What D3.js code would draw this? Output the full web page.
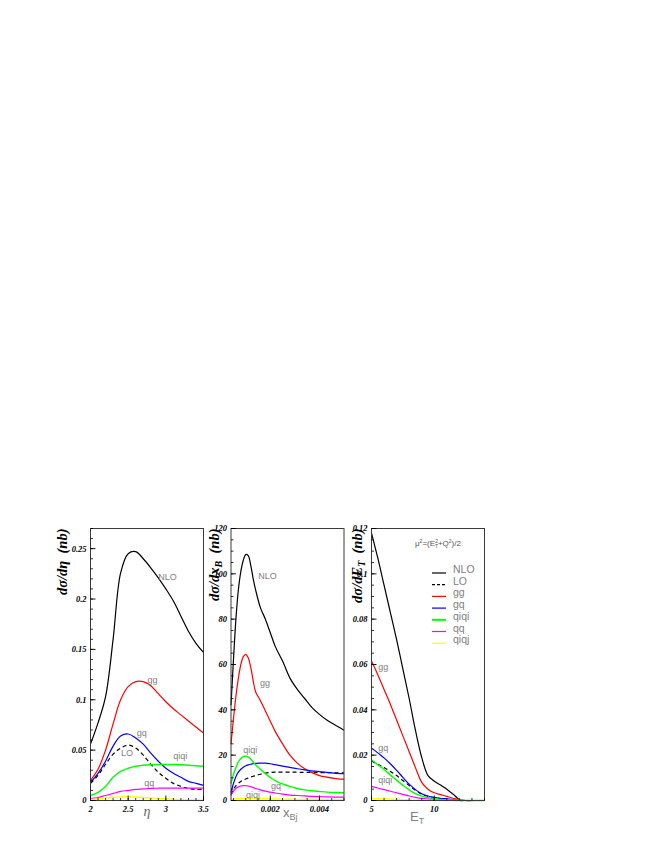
<!DOCTYPE html>
<html>
<head>
<meta charset="utf-8">
<script src="https://cdn.jsdelivr.net/npm/d3@7"></script>
<style>
  body { margin: 0; background: #fff; }
  .tick-label { font-family: "Liberation Serif", "DejaVu Serif", serif; font-weight: bold; font-style: italic; font-size: 8.5px; fill: #000; }
  .ytitle { font-family: "Liberation Serif", "DejaVu Serif", serif; font-weight: bold; font-style: italic; font-size: 14.5px; fill: #000; }
  .curve-label { font-family: "Liberation Sans", Arial, sans-serif; font-size: 9px; fill: #808080; }
  .legend-label { font-family: "Liberation Sans", Arial, sans-serif; font-size: 10.5px; fill: #808080; }
</style>
</head>
<body>
<div id="chart"></div>
<script>
"use strict";

// ---- panel 1 : d sigma / d eta
const etaVals   = [2.0, 2.1, 2.2, 2.3, 2.4, 2.5, 2.6, 2.7, 2.8, 2.9, 3.0, 3.1, 3.2, 3.3, 3.4, 3.5];
const etaNLO    = [0.056, 0.077, 0.103, 0.160, 0.226, 0.245, 0.247, 0.240, 0.231, 0.221, 0.210, 0.198, 0.183, 0.168, 0.156, 0.147];
const etaLO     = [0.017, 0.025, 0.036, 0.046, 0.052, 0.055, 0.052, 0.045, 0.036, 0.028, 0.022, 0.017, 0.014, 0.012, 0.011, 0.011];
const etaGG     = [0.020, 0.031, 0.050, 0.076, 0.100, 0.113, 0.118, 0.118, 0.114, 0.106, 0.098, 0.091, 0.085, 0.079, 0.073, 0.067];
const etaGQ     = [0.018, 0.027, 0.039, 0.054, 0.064, 0.066, 0.062, 0.056, 0.047, 0.039, 0.032, 0.027, 0.023, 0.019, 0.017, 0.015];
const etaQiQi   = [0.005, 0.008, 0.014, 0.023, 0.029, 0.032, 0.034, 0.035, 0.0355, 0.0358, 0.0358, 0.0357, 0.0355, 0.035, 0.0345, 0.034];
const etaQQ     = [0.002, 0.003, 0.005, 0.007, 0.009, 0.010, 0.011, 0.0115, 0.012, 0.0122, 0.0123, 0.0123, 0.0123, 0.0123, 0.0122, 0.0122];
const etaQiQj   = [0.0008, 0.0015, 0.0025, 0.0032, 0.0036, 0.0037, 0.0035, 0.0030, 0.0025, 0.0020, 0.0016, 0.0012, 0.0009, 0.0007, 0.0005, 0.0004];
const etaXTicks = [2, 2.5, 3, 3.5];
const etaXTickLabels = ["2", "2.5", "3", "3.5"];
const etaYTicks = [0, 0.05, 0.1, 0.15, 0.2, 0.25];
const etaYTickLabels = ["0", "0.05", "0.1", "0.15", "0.2", "0.25"];

// ---- panel 2 : d sigma / d x_B
const xbjVals   = [0.0004, 0.0005, 0.0006, 0.0007, 0.0008, 0.0009, 0.0010, 0.0011, 0.0012, 0.0013, 0.0014, 0.0016, 0.0018, 0.0020, 0.0022, 0.0025, 0.0028, 0.0031, 0.0034, 0.0037, 0.0040, 0.0043, 0.0046, 0.0050];
const xbjNLO    = [42, 62, 80, 93, 101, 106, 108.5, 108, 104, 98, 93, 85, 80, 74, 68, 61.5, 54, 49, 45, 41, 38, 35.5, 33.5, 31];
const xbjLO     = [2.6, 5, 6.5, 7.6, 8.4, 9, 9.5, 9.9, 10.3, 10.7, 11, 11.6, 12.1, 12.4, 12.5, 12.5, 12.5, 12.5, 12.4, 12.4, 12.3, 12.3, 12.2, 12.2];
const xbjGG     = [25, 36, 46, 54, 60, 63.5, 64.5, 63, 59, 53, 48, 44, 39.5, 35, 30.5, 25, 20, 16.5, 14, 12.3, 11, 10.3, 9.8, 9.4];
const xbjGQ     = [3.5, 7.5, 10.5, 12.5, 13.8, 14.7, 15.3, 15.7, 16, 16.2, 16.4, 16.5, 16.5, 16.2, 15.8, 15.2, 14.6, 14, 13.5, 13.1, 12.7, 12.4, 12.1, 11.8];
const xbjQiQi   = [7.5, 11.5, 14.5, 17, 18.5, 19.4, 19.6, 19.2, 18.3, 17, 15.8, 13.8, 11.8, 10.2, 8.8, 7.3, 6.2, 5.3, 4.7, 4.3, 4, 3.7, 3.5, 3.4];
const xbjQQ     = [2.2, 4, 5.3, 6, 6.4, 6.6, 6.6, 6.4, 6.1, 5.7, 5.3, 4.7, 4.1, 3.7, 3.3, 2.8, 2.4, 2.2, 2, 1.8, 1.7, 1.6, 1.5, 1.5];
const xbjQiQj   = [0.4, 0.6, 0.75, 0.85, 0.9, 0.9, 0.9, 0.9, 0.85, 0.85, 0.8, 0.8, 0.75, 0.7, 0.65, 0.6, 0.55, 0.5, 0.5, 0.45, 0.45, 0.4, 0.4, 0.4];
const xbjXTicks = [0.002, 0.004];
const xbjXTickLabels = ["0.002", "0.004"];
const xbjYTicks = [0, 20, 40, 60, 80, 100, 120];
const xbjYTickLabels = ["0", "20", "40", "60", "80", "100", "120"];

// ---- panel 3 : d sigma / d E_T
const etVals    = [5, 5.5, 6, 6.5, 7, 7.5, 8, 8.5, 9, 9.5, 10, 10.5, 11, 11.5, 12, 12.5, 13, 13.5, 14];
const etNLO     = [0.118, 0.107, 0.095, 0.083, 0.071, 0.058, 0.045, 0.031, 0.019, 0.011, 0.0085, 0.0068, 0.005, 0.0028, 0.0004, 0, 0, 0, 0];
const etLO      = [0.0174, 0.016, 0.0146, 0.0128, 0.011, 0.0088, 0.0066, 0.0045, 0.0028, 0.0018, 0.0012, 0.0008, 0.0005, 0.0002, 0, 0, 0, 0, 0];
const etGG      = [0.0615, 0.0555, 0.049, 0.0425, 0.0355, 0.0285, 0.0215, 0.0145, 0.008, 0.005, 0.0034, 0.0026, 0.0018, 0.001, 0.0003, 0, 0, 0, 0];
const etGQ      = [0.0232, 0.021, 0.0188, 0.0162, 0.0133, 0.0102, 0.0072, 0.0048, 0.003, 0.002, 0.0014, 0.001, 0.0007, 0.0004, 0.0001, 0, 0, 0, 0];
const etQiQi    = [0.018, 0.0158, 0.0137, 0.0113, 0.009, 0.0067, 0.0047, 0.003, 0.0019, 0.0012, 0.0008, 0.0005, 0.0003, 0.0001, 0, 0, 0, 0, 0];
const etQQ      = [0.0062, 0.0055, 0.0048, 0.0041, 0.0034, 0.0027, 0.002, 0.0014, 0.0009, 0.0006, 0.0004, 0.0002, 0.0001, 0, 0, 0, 0, 0, 0];
const etQiQj    = [0.0008, 0.00075, 0.0007, 0.0006, 0.0005, 0.0004, 0.0003, 0.00025, 0.0002, 0.00015, 0.0001, 0.00005, 0, 0, 0, 0, 0, 0, 0];
const etXTicks  = [5, 10];
const etXTickLabels = ["5", "10"];
const etYTicks  = [0, 0.02, 0.04, 0.06, 0.08, 0.1, 0.12];
const etYTickLabels = ["0", "0.02", "0.04", "0.06", "0.08", "0.1", "0.12"];

// ---- legend / curve names
const curveNames = ["NLO", "LO", "gg", "gq", "qiqi", "qq", "qiqj"];

const curveStyle = {
    NLO:  { color: "#000000", width: 1.2, dash: null },
    LO:   { color: "#000000", width: 1.2, dash: "4,3" },
    gg:   { color: "#ff0000", width: 1.2, dash: null },
    gq:   { color: "#0000ff", width: 1.2, dash: null },
    qiqi: { color: "#00ff00", width: 1.4, dash: null },
    qq:   { color: "#ff00ff", width: 1.2, dash: null },
    qiqj: { color: "#ffff00", width: 1.4, dash: null }
};

const svg = d3.select("#chart").append("svg")
    .attr("width", 654)
    .attr("height", 846);

const frameTop = 528.5, frameBottom = 800.5, panelW = 113;

const panels = [
    {
        left: 90.5, xDomain: [2, 3.5], yDomain: [0, 0.27], xs: etaVals,
        series: { NLO: etaNLO, LO: etaLO, gg: etaGG, gq: etaGQ, qiqi: etaQiQi, qq: etaQQ, qiqj: etaQiQj },
        xTicks: etaXTicks, xTickLabels: etaXTickLabels, xMinor: d3.range(2, 3.501, 0.1),
        yTicks: etaYTicks, yTickLabels: etaYTickLabels, yMinor: d3.range(0, 0.2701, 0.01),
        labels: [["NLO", 2.9, 0.2187], ["gg", 2.755, 0.1163], ["gq", 2.613, 0.0636], ["LO", 2.404, 0.0437], ["qiqi", 3.10, 0.0408], ["qq", 2.714, 0.0139]],
        ytitle: ["dσ/dη", "", "  (nb)"], ytitleX: 67
    },
    {
        left: 231, xDomain: [0.0004, 0.005], yDomain: [0, 120], xs: xbjVals,
        series: { NLO: xbjNLO, LO: xbjLO, gg: xbjGG, gq: xbjGQ, qiqi: xbjQiQi, qq: xbjQQ, qiqj: xbjQiQj },
        xTicks: xbjXTicks, xTickLabels: xbjXTickLabels, xMinor: d3.range(0.0005, 0.00501, 0.0005),
        yTicks: xbjYTicks, yTickLabels: xbjYTickLabels, yMinor: d3.range(0, 120.1, 5),
        labels: [["NLO", 0.00151, 97.6], ["gg", 0.00158, 50.7], ["qiqi", 0.0009, 21], ["gq", 0.00203, 5.2], ["qiqj", 0.00101, 1.2]],
        ytitle: ["dσ/dx", "B", "  (nb)"], ytitleX: 219
    },
    {
        left: 371.5, xDomain: [5, 14], yDomain: [0, 0.12], xs: etVals,
        series: { NLO: etNLO, LO: etLO, gg: etGG, gq: etGQ, qiqi: etQiQi, qq: etQQ, qiqj: etQiQj },
        xTicks: etXTicks, xTickLabels: etXTickLabels, xMinor: d3.range(5, 14.01, 1),
        yTicks: etYTicks, yTickLabels: etYTickLabels, yMinor: d3.range(0, 0.1201, 0.005),
        labels: [["gg", 5.53, 0.0577], ["gq", 5.53, 0.0217], ["qiqi", 5.53, 0.0078]],
        ytitle: ["dσ/dE", "T", "  (nb)"], ytitleX: 362
    }
];

panels.forEach(drawPanel);

function drawPanel(p) {
    const x = d3.scaleLinear().domain(p.xDomain).range([p.left, p.left + panelW]);
    const y = d3.scaleLinear().domain(p.yDomain).range([frameBottom, frameTop]);
    const g = svg.append("g");

    // curves
    const line = d3.line()
        .x((d, i) => x(p.xs[i]))
        .y(d => Math.min(y(d), frameBottom))
        .curve(d3.curveCatmullRom.alpha(0.5));

    curveNames.forEach(name => {
        const st = curveStyle[name];
        g.append("path")
            .datum(p.series[name])
            .attr("d", line)
            .attr("fill", "none")
            .attr("stroke", st.color)
            .attr("stroke-width", st.width)
            .attr("stroke-dasharray", st.dash);
    });

    // frame
    g.append("rect")
        .attr("x", p.left).attr("y", frameTop)
        .attr("width", panelW).attr("height", frameBottom - frameTop)
        .attr("fill", "none").attr("stroke", "#3a3a3a").attr("stroke-width", 1);

    // y ticks (inward)
    g.selectAll("line.ymin").data(p.yMinor).enter().append("line")
        .attr("x1", p.left).attr("x2", p.left + 2.5)
        .attr("y1", d => y(d)).attr("y2", d => y(d))
        .attr("stroke", "#000").attr("stroke-width", 0.8);
    g.selectAll("line.ymaj").data(p.yTicks).enter().append("line")
        .attr("x1", p.left).attr("x2", p.left + 5)
        .attr("y1", d => y(d)).attr("y2", d => y(d))
        .attr("stroke", "#000").attr("stroke-width", 0.9);
    g.selectAll("text.ytl").data(p.yTicks).enter().append("text")
        .attr("class", "tick-label")
        .attr("x", p.left - 4)
        .attr("y", d => y(d))
        .attr("dy", "0.35em")
        .attr("text-anchor", "end")
        .text((d, i) => p.yTickLabels[i]);

    // x ticks (inward)
    g.selectAll("line.xmin").data(p.xMinor).enter().append("line")
        .attr("x1", d => x(d)).attr("x2", d => x(d))
        .attr("y1", frameBottom).attr("y2", frameBottom - 2.5)
        .attr("stroke", "#000").attr("stroke-width", 0.8);
    g.selectAll("line.xmaj").data(p.xTicks).enter().append("line")
        .attr("x1", d => x(d)).attr("x2", d => x(d))
        .attr("y1", frameBottom).attr("y2", frameBottom - 5)
        .attr("stroke", "#000").attr("stroke-width", 0.9);
    g.selectAll("text.xtl").data(p.xTicks).enter().append("text")
        .attr("class", "tick-label")
        .attr("x", d => x(d))
        .attr("y", frameBottom + 11)
        .attr("text-anchor", "middle")
        .text((d, i) => p.xTickLabels[i]);

    // curve labels
    g.selectAll("text.cl").data(p.labels).enter().append("text")
        .attr("class", "curve-label")
        .attr("x", d => x(d[1]))
        .attr("y", d => y(d[2]))
        .text(d => d[0]);

    // y title, rotated, ending at the frame top
    const yt = g.append("text")
        .attr("class", "ytitle")
        .attr("transform", `translate(${p.ytitleX},${frameTop}) rotate(-90)`)
        .attr("text-anchor", "end")
        .attr("xml:space", "preserve");
    yt.append("tspan").text(p.ytitle[0]);
    if (p.ytitle[1]) {
        yt.append("tspan").attr("dy", 3).attr("font-size", "10px").text(p.ytitle[1]);
        yt.append("tspan").attr("dy", -3).text(p.ytitle[2]);
    } else {
        yt.append("tspan").text(p.ytitle[2]);
    }
}

// x titles
svg.append("text")
    .attr("x", 147).attr("y", 816)
    .attr("text-anchor", "middle")
    .style("font-family", "'Liberation Serif', serif")
    .style("font-style", "italic")
    .style("font-size", "14px")
    .style("fill", "#666")
    .text("η");

const xbT = svg.append("text")
    .attr("x", 283).attr("y", 817)
    .style("font-family", "'Liberation Sans', Arial, sans-serif")
    .style("font-size", "13px")
    .style("fill", "#808080");
xbT.append("tspan").text("x");
xbT.append("tspan").attr("dy", 3).style("font-size", "9px").text("Bj");

const etT = svg.append("text")
    .attr("x", 410).attr("y", 821)
    .style("font-family", "'Liberation Sans', Arial, sans-serif")
    .style("font-size", "13px")
    .style("fill", "#808080");
etT.append("tspan").text("E");
etT.append("tspan").attr("dy", 3).style("font-size", "9px").text("T");

// scale note and legend in third panel
const mu = svg.append("text")
    .attr("x", 415).attr("y", 546)
    .style("font-family", "'Liberation Sans', Arial, sans-serif")
    .style("font-size", "8px")
    .style("fill", "#555");
mu.append("tspan").text("μ");
mu.append("tspan").attr("dy", -3).style("font-size", "5px").text("2");
mu.append("tspan").attr("dy", 3).text("=(E");
mu.append("tspan").attr("dy", 2).style("font-size", "5px").text("T");
mu.append("tspan").attr("dx", -3).attr("dy", -5).style("font-size", "5px").text("2");
mu.append("tspan").attr("dy", 3).text("+Q");
mu.append("tspan").attr("dy", -3).style("font-size", "5px").text("2");
mu.append("tspan").attr("dy", 3).text(")/2");

const legend = svg.append("g");
curveNames.forEach((name, i) => {
    const st = curveStyle[name];
    const yy = 573 + i * 11.7;
    legend.append("line")
        .attr("x1", 432).attr("x2", 446)
        .attr("y1", yy).attr("y2", yy)
        .attr("stroke", st.color)
        .attr("stroke-width", name === "qiqi" ? 2 : 1.2)
        .attr("stroke-dasharray", name === "LO" ? "3,2" : null);
    legend.append("text")
        .attr("class", "legend-label")
        .attr("x", 453).attr("y", yy)
        .text(name);
});
</script>
</body>
</html>
